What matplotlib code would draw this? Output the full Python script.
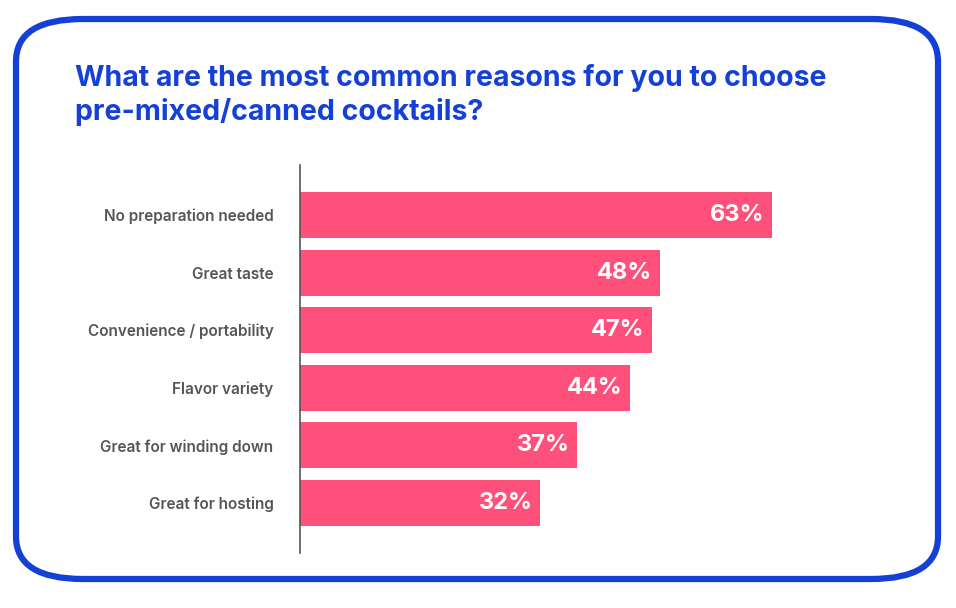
import matplotlib.pyplot as plt
from matplotlib.patches import FancyBboxPatch

# Data
categories = ['No preparation needed', 'Great taste', 'Convenience / portability',
              'Flavor variety', 'Great for winding down', 'Great for hosting']
values = [63, 48, 47, 44, 37, 32]

blue = '#1440d8'
pink = '#ff4f7b'

fig = plt.figure(figsize=(9.56, 6.08), dpi=100)

# rounded frame
frame = FancyBboxPatch((16 / 956, 1 - 579 / 608), 922 / 956, 560 / 608,
                       boxstyle='round,pad=0,rounding_size=0.07',
                       transform=fig.transFigure, fill=False,
                       edgecolor=blue, linewidth=4.5)
fig.patches.append(frame)

fig.text(75 / 956, 1 - 78 / 608, 'What are the most common reasons for you to choose',
         color=blue, fontsize=20.5, fontweight='bold', va='center', family='Inter')
fig.text(75 / 956, 1 - 112 / 608, 'pre-mixed/canned cocktails?',
         color=blue, fontsize=20.5, fontweight='bold', va='center', family='Inter')

ax = fig.add_axes([300 / 956, 1 - 553 / 608, 637 / 956, 388 / 608])
y = list(range(len(categories)))
ax.barh(y, values, height=0.8, color=pink)
ax.set_xlim(0, 85)
ax.set_ylim(5.868, -0.868)

for yi, v in zip(y, values):
    ax.text(v - 1.0, yi, f'{v}%', color='white', fontsize=17, fontweight='bold',
            ha='right', va='center', family='Inter')

ax.set_yticks(y)
ax.set_yticklabels(categories, fontsize=11, color='#555555', fontweight='semibold',
                   family='Inter')
ax.tick_params(axis='y', length=0, pad=19)
ax.set_xticks([])
for s in ['top', 'right', 'bottom']:
    ax.spines[s].set_visible(False)
ax.spines['left'].set_color('#555555')
ax.spines['left'].set_linewidth(1.2)
ax.patch.set_alpha(0)

fig.savefig('out.png', dpi=100)
